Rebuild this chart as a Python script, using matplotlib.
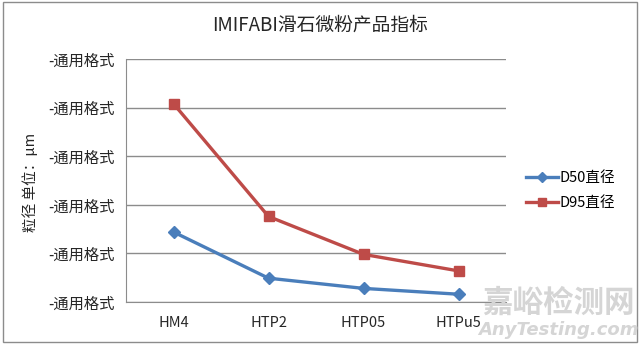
import matplotlib
matplotlib.use("Agg")
import matplotlib.pyplot as plt
from matplotlib.patches import Rectangle

plt.rcParams['font.family'] = ['Noto Sans CJK SC', 'DejaVu Sans']

# Datos (escala relativa, eje Y sin numeros reales)
categorias = ["HM4", "HTP2", "HTP05", "HTPu5"]
d50 = [7.2, 2.45, 1.4, 0.8]
d95 = [20.4, 8.8, 4.9, 3.2]
y_ticks = [0, 5, 10, 15, 20, 25]
y_tick_labels = ["-通用格式"] * 6

fig = plt.figure(figsize=(6.4, 3.46), dpi=100)
W, H = 640, 346
ax = fig.add_axes([126 / W, 1 - 302 / H, 380 / W, 243 / H])

x = range(len(categorias))
ax.plot(x, d50, color="#4A7EBB", lw=2.4, marker="D", ms=6.5,
        markeredgecolor="#4A7EBB", label="D50直径")
ax.plot(x, d95, color="#BE4B48", lw=2.4, marker="s", ms=7.5,
        markeredgecolor="#BE4B48", label="D95直径")

ax.set_xlim(-0.5, 3.5)
ax.set_ylim(0, 25)
ax.set_yticks(y_ticks)
ax.set_yticklabels(y_tick_labels, fontsize=11, color="#262626")
ax.set_xticks(list(x))
ax.set_xticklabels(categorias, fontsize=10.5, color="#262626")
ax.tick_params(length=0, pad=8)
ax.tick_params(axis="x", pad=10)
ax.grid(axis="y", color="#8c8c8c", lw=1)
ax.set_axisbelow(True)
for s in ["top", "right"]:
    ax.spines[s].set_visible(False)
ax.spines["left"].set_color("#8c8c8c")
ax.spines["bottom"].set_color("#8c8c8c")

fig.text(30 / W, 1 - 182 / H, "粒径 单位：μm", rotation=90, fontsize=10.5,
         ha="center", va="center", color="#262626")
fig.text(320 / W, 1 - 25 / H, "IMIFABI滑石微粉产品指标", fontsize=13.5,
         ha="center", va="center", color="#262626")

ax.legend(loc="center left", bbox_to_anchor=((526 - 126) / 380, 0.5 - 10 / 243),
          frameon=False, fontsize=10.5, handlelength=2.2, labelspacing=0.8,
          handletextpad=0.1, borderaxespad=0, borderpad=0, markerscale=0.85)

# marco exterior del grafico
fig.patches.append(Rectangle((3 / W, 4 / H), 634 / W, 340 / H, fill=False,
                             edgecolor="#8c8c8c", lw=1, transform=fig.transFigure))

# marca de agua
fig.text(558 / W, 1 - 303 / H, "嘉峪检测网", fontsize=22, color="#d5d5d5",
         ha="center", va="center", weight="bold")
fig.text(558 / W, 1 - 330 / H, "AnyTesting.com", fontsize=13, color="#d5d5d5",
         ha="center", va="center", style="italic", weight="bold",
         family="DejaVu Sans")

fig.savefig("out.png", dpi=100)
